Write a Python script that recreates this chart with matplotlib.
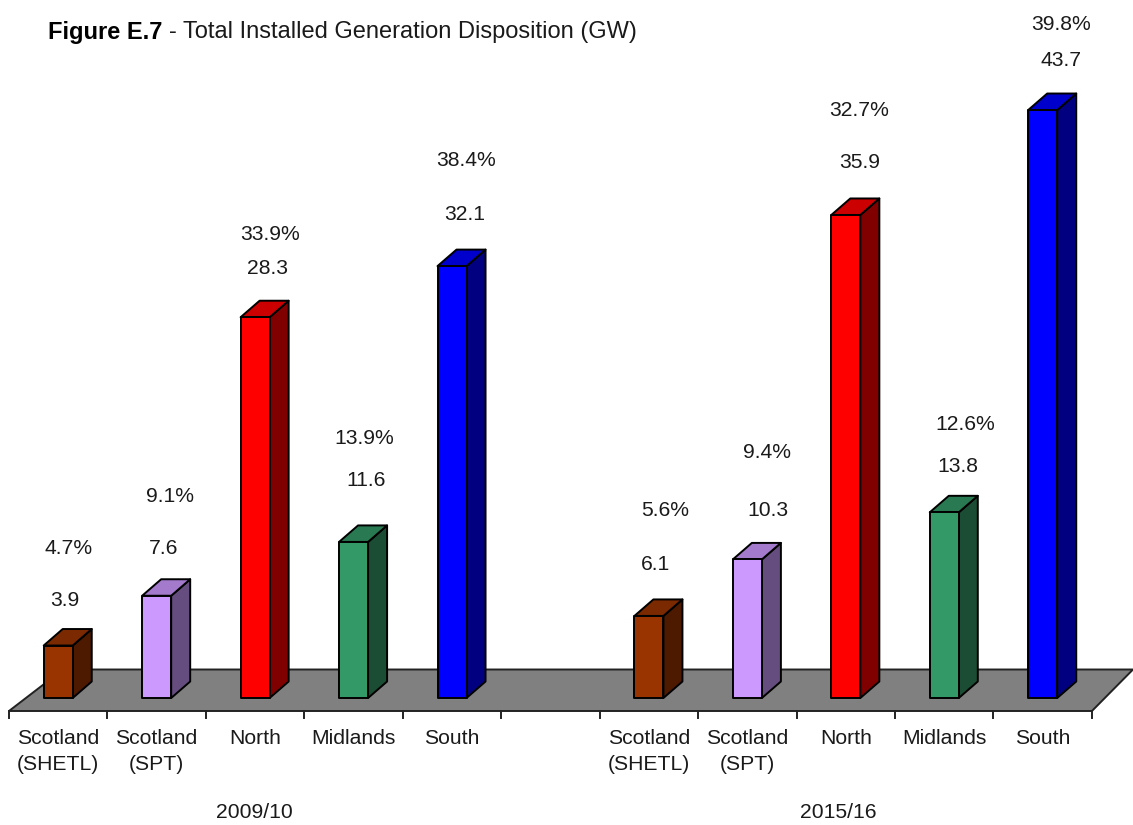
import matplotlib

matplotlib.use("Agg")
import matplotlib.pyplot as plt
from matplotlib.patches import Polygon

plt.rcParams["font.family"] = ["Liberation Sans", "DejaVu Sans"]

regions = ["Scotland\n(SHETL)", "Scotland\n(SPT)", "North", "Midlands", "South"]
years = ["2009/10", "2015/16"]
gw_2009 = [3.9, 7.6, 28.3, 11.6, 32.1]
gw_2015 = [6.1, 10.3, 35.9, 13.8, 43.7]
pct_2009 = ["4.7%", "9.1%", "33.9%", "13.9%", "38.4%"]
pct_2015 = ["5.6%", "9.4%", "32.7%", "12.6%", "39.8%"]

front_colors = ["#993300", "#CC99FF", "#FF0000", "#339966", "#0000FF"]
side_colors = ["#4D1A00", "#664D80", "#800000", "#1A4D33", "#000080"]
top_colors = ["#7A2900", "#A37ACC", "#CC0000", "#297A52", "#0000CC"]

# label anchors in pixels: (x, y) for the value and percentage above each bar
value_pos = [(65, 600), (164, 549), (268, 268), (366, 481), (465, 214),
             (656, 565), (768, 511), (860, 163), (958, 467), (1061, 60)]
pct_pos = [(69, 548), (170, 497), (270, 234), (364, 439), (466, 161),
           (665, 510), (767, 453), (859, 111), (965, 425), (1061, 24)]

WIDTH, HEIGHT = 1133, 825
SLOT_PX = 98.45
LEFT_PX = 9
BASE_PX = 698
GW_PX = 13.455
BAR_W = 0.295
DEPTH_X = 19 / SLOT_PX
DEPTH_Y = 16.5 / GW_PX
TEXT_COLOR = "#1A1A1A"
LABEL_SIZE = 15.2


def px_x(x):
    return (x - LEFT_PX) / SLOT_PX


def px_y(y):
    return (BASE_PX - y) / GW_PX


fig = plt.figure(figsize=(WIDTH / 100, HEIGHT / 100), dpi=100)
ax = fig.add_axes([0, 0, 1, 1])
ax.set_xlim(px_x(0), px_x(WIDTH))
ax.set_ylim(px_y(HEIGHT), px_y(0))
ax.axis("off")

# floor
floor_front = px_y(711)
floor_back = px_y(669.5)
ax.add_patch(Polygon(
    [(0, floor_front), (11, floor_front), (px_x(1133), floor_back), (px_x(63), floor_back)],
    facecolor="#808080", edgecolor="#222222", lw=1.4, zorder=1,
))

# category ticks along the front of the floor
for i in range(12):
    ax.plot([i, i], [floor_front, px_y(718)], color="#222222", lw=1.4, zorder=1)

slots = [0, 1, 2, 3, 4, 6, 7, 8, 9, 10]
values = gw_2009 + gw_2015
percents = pct_2009 + pct_2015

for n, (slot, val) in enumerate(zip(slots, values)):
    c = n % 5
    x0 = slot + 0.5 - BAR_W / 2
    x1 = slot + 0.5 + BAR_W / 2
    style = dict(edgecolor="black", lw=1.4, joinstyle="round", zorder=3)
    ax.add_patch(Polygon([(x1, 0), (x1 + DEPTH_X, DEPTH_Y), (x1 + DEPTH_X, val + DEPTH_Y), (x1, val)],
                         facecolor=side_colors[c], **style))
    ax.add_patch(Polygon([(x0, val), (x1, val), (x1 + DEPTH_X, val + DEPTH_Y), (x0 + DEPTH_X, val + DEPTH_Y)],
                         facecolor=top_colors[c], **style))
    ax.add_patch(Polygon([(x0, 0), (x1, 0), (x1, val), (x0, val)],
                         facecolor=front_colors[c], **style))

    vx, vy = value_pos[n]
    ax.text(px_x(vx), px_y(vy), f"{val:.1f}", ha="center", va="center", fontsize=LABEL_SIZE, color=TEXT_COLOR)
    qx, qy = pct_pos[n]
    ax.text(px_x(qx), px_y(qy), percents[n], ha="center", va="center", fontsize=LABEL_SIZE, color=TEXT_COLOR)

    ax.text(slot + 0.5, px_y(729), regions[c], ha="center", va="top", fontsize=LABEL_SIZE,
            color=TEXT_COLOR, linespacing=1.49)

ax.text(px_x(254), px_y(812), years[0], ha="center", va="center", fontsize=LABEL_SIZE, color=TEXT_COLOR)
ax.text(px_x(838), px_y(812), years[1], ha="center", va="center", fontsize=LABEL_SIZE, color=TEXT_COLOR)

ax.text(px_x(48), px_y(32), "Figure E.7", ha="left", va="center", fontsize=17, fontweight="bold", color="black")
ax.text(px_x(169), px_y(32), "- Total Installed Generation Disposition (GW)", ha="left", va="center",
        fontsize=17, color=TEXT_COLOR)

fig.savefig("out.png", dpi=100)
